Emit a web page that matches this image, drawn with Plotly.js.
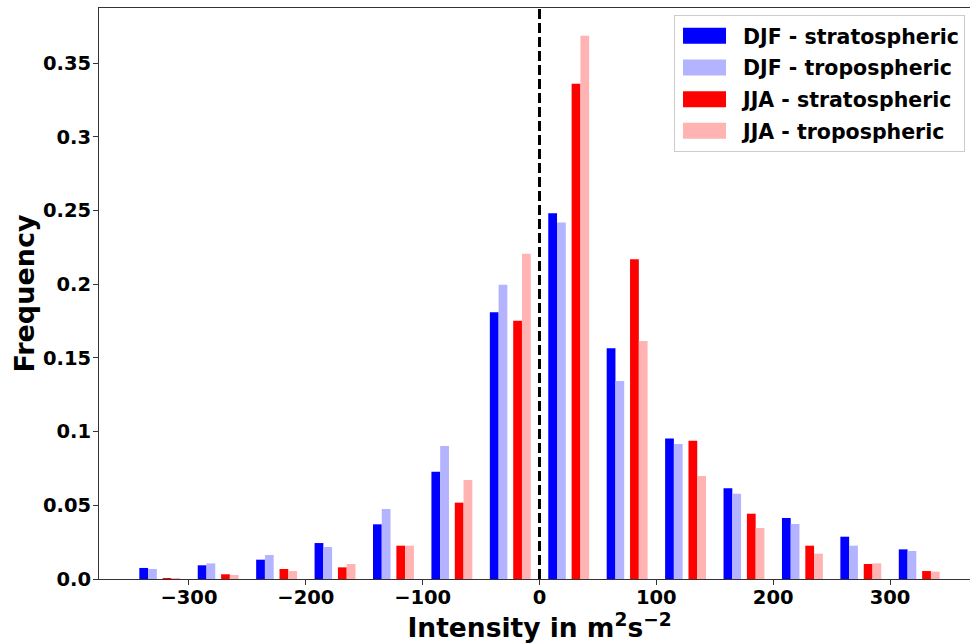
<!DOCTYPE html>
<html>
<head>
<meta charset="utf-8">
<script src="https://cdn.plot.ly/plotly-3.0.1.min.js"></script>
<style>
  html, body { margin: 0; padding: 0; overflow: hidden; background: #fff; }
  #chart { width: 980px; height: 643px; }
</style>
</head>
<body>
<div id="chart"></div>
<script>
// Histogram bins of 50 m^2 s^-2, given by their centres
const binCenters = [-325, -275, -225, -175, -125, -75, -25, 25, 75, 125, 175, 225, 275, 325];

// Relative frequency per bin
const djfStrat = [0.0075, 0.0093, 0.0131, 0.0244, 0.0371, 0.0728, 0.1809, 0.2481, 0.1565, 0.0954, 0.0615, 0.0414, 0.0287, 0.0201];
const djfTrop  = [0.0068, 0.0106, 0.0163, 0.0217, 0.0475, 0.0902, 0.1997, 0.2418, 0.1343, 0.0916, 0.0579, 0.0373, 0.0226, 0.0190];
const jjaStrat = [0.0007, 0.0032, 0.0068, 0.0079, 0.0226, 0.0518, 0.1752, 0.3360, 0.2169, 0.0938, 0.0443, 0.0226, 0.0102, 0.0054];
const jjaTrop  = [0.0007, 0.0027, 0.0054, 0.0102, 0.0226, 0.0672, 0.2207, 0.3686, 0.1615, 0.0699, 0.0346, 0.0172, 0.0106, 0.0050];

const seriesNames = ['DJF - stratospheric', 'DJF - tropospheric', 'JJA - stratospheric', 'JJA - tropospheric'];

// Axis ticks
const xTickVals = [-300, -200, -100, 0, 100, 200, 300];
const xTickText = ['\u2212300', '\u2212200', '\u2212100', '0', '100', '200', '300'];
const yTickVals = [0, 0.05, 0.1, 0.15, 0.2, 0.25, 0.3, 0.35];
const yTickText = ['0.0', '0.05', '0.1', '0.15', '0.2', '0.25', '0.3', '0.35'];

const FONT = 'DejaVu Sans, Verdana, sans-serif';
const barWidth = 7.5;

function barTrace(name, values, color, offset) {
  return {
    type: 'bar',
    name: name,
    legendgroup: name,
    x: binCenters,
    y: values,
    width: barWidth,
    offset: offset,
    marker: { color: color, line: { width: 0 } },
    hoverinfo: 'x+y+name'
  };
}

const traces = [
  barTrace(seriesNames[0], djfStrat, '#0000ff', -17.5),
  barTrace(seriesNames[1], djfTrop, '#b3b3ff', -10),
  barTrace(seriesNames[2], jjaStrat, '#ff0000', 2.5),
  barTrace(seriesNames[3], jjaTrop, '#ffb3b3', 10)
];

const axisCommon = {
  showgrid: false,
  zeroline: false,
  showline: true,
  linecolor: '#333',
  linewidth: 1,
  mirror: true,
  ticks: 'outside',
  ticklen: 5,
  tickwidth: 1,
  tickcolor: '#333',
  tickfont: { family: FONT, size: 19.5, color: '#000', weight: 'bold' }
};

const layout = {
  width: 980,
  height: 643,
  margin: { l: 99, r: 0, t: 8, b: 64 },
  paper_bgcolor: '#fff',
  plot_bgcolor: '#fff',
  barmode: 'overlay',
  showlegend: true,
  xaxis: Object.assign({}, axisCommon, {
    range: [-377, 377],
    tickmode: 'array',
    tickvals: xTickVals,
    ticktext: xTickText,
    ticklabelstandoff: -4,
    title: {
      text: 'Intensity in m<sup>2</sup>s<sup>\u22122</sup>',
      font: { family: FONT, size: 26.5, color: '#000', weight: 'bold' },
      standoff: 11
    }
  }),
  yaxis: Object.assign({}, axisCommon, {
    range: [0, 0.3874],
    tickmode: 'array',
    tickvals: yTickVals,
    ticktext: yTickText,
    ticklabelstandoff: -2,
    title: {
      text: 'Frequency',
      font: { family: FONT, size: 27, color: '#000', weight: 'bold' },
      standoff: 0
    }
  }),
  legend: {
    x: 0.983,
    xanchor: 'right',
    y: 0.9877,
    yanchor: 'top',
    itemwidth: 58,
    tracegroupgap: 2,
    bgcolor: 'rgba(255,255,255,0.8)',
    bordercolor: '#cccccc',
    borderwidth: 1,
    font: { family: FONT, size: 20.5, color: '#000', weight: 'bold' }
  },
  shapes: [{
    type: 'line',
    xref: 'x',
    yref: 'paper',
    x0: 0, x1: 0,
    y0: 0, y1: 1,
    line: { color: '#000', width: 3, dash: '10px,4px' }
  }]
};

Plotly.newPlot('chart', traces, layout, { displayModeBar: false, staticPlot: true })
  .then(function (gd) {
    // Wider, flatter legend swatches
    gd.querySelectorAll('.legend .legendpoints path').forEach(function (p) {
      p.setAttribute('d', 'M-26,-8H17V8H-26Z');
    });
  });
</script>
</body>
</html>
